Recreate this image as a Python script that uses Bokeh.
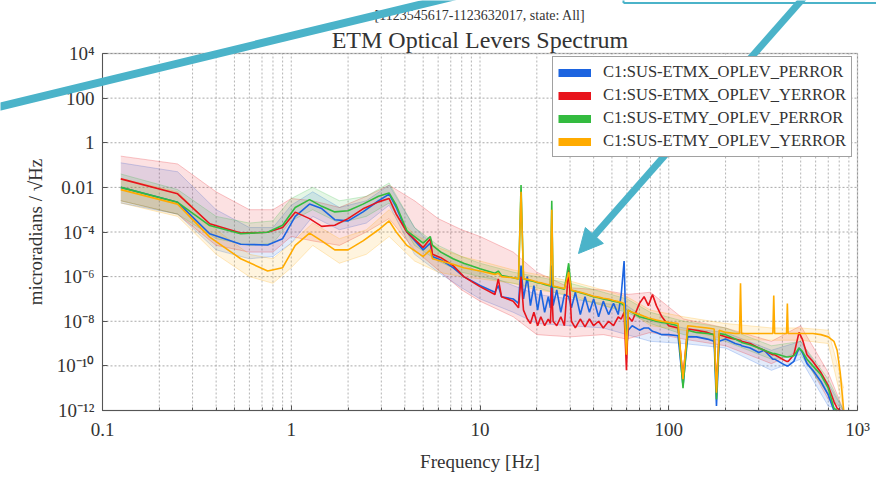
import numpy as np
from bokeh.plotting import figure
from bokeh.models import (Range1d, FixedTicker, CustomJSTickFormatter, Label, Arrow,
                          NormalHead, Legend, LegendItem, BoxAnnotation)
from bokeh.embed import file_html
from bokeh.resources import INLINE

nan = float("nan")

# ---------------- data (amplitude spectral density, exponents of 10) ----------------
freq = [0.125, 0.25, 0.37, 0.54, 0.75, 0.9, 1.05, 1.25, 1.45, 1.7,
        2.0, 2.4, 2.9, 3.3, 3.6, 4.1, 5.0, 5.45, 5.6, 6.2,
        7.2, 8.2, 10, 12, 12.5, 13, 15, 16.0, 16.5, 17.0,
        17.8, 18.5, 19.3, 20.2, 21, 22, 23, 23.6, 24, 24.4,
        25.5, 26.8, 28, 29.5, 30.5, 32, 34, 36, 38, 40,
        42.5, 45, 48, 51, 54, 56, 58, 59.7, 61, 64,
        70, 74, 78, 82, 86, 92, 100, 112, 119, 126,
        140, 160, 174, 179, 185, 200, 225, 237, 240, 243,
        270, 300, 320, 356, 360, 364, 400, 421, 425, 429,
        460, 490, 510, 540, 580, 640, 700, 750, 780, 810, 845]

etmx_perror_log10 = [-2.0, -2.67, -4.08, -4.55, -4.58, -4.3, -3.3, -2.75, -2.95, -3.45,
                     -3.5, -3.1, -2.6, -2.3, -2.9, -4.0, -4.8, -4.5, -5.1, -5.25,
                     -5.6, -6.0, -6.4, -6.7, -6.4, -6.9, -7.0, -7.2, -5.5, -7.0,
                     -6.0, -7.3, -6.4, -7.5, -6.6, -7.6, -6.9, -7.4, -5.5, -7.3,
                     -6.6, -7.6, -6.8, -6.9, -7.4, -6.7, -7.7, -6.9, -7.6, -7.0,
                     -7.8, -7.1, -7.7, -7.2, -7.7, -6.8, -5.3, -9.3, -8.4, -8.2,
                     -8.4, -8.3, -8.3, -8.45, -8.5, -8.6, -8.6, -8.65, -10.9, -8.7,
                     -8.7, -8.8, -8.9, -11.8, -8.9, -8.8, -9.0, -9.05, -9.05, -9.1,
                     -9.2, -9.4, -9.3, -9.7, -9.7, -9.7, -9.9, -10.0, -10.0, -10.0,
                     -9.8, -9.2, -9.4, -9.9, -10.2, -10.7, -11.3, -12.0, nan, nan, nan]
etmx_yerror_log10 = [-1.62, -2.29, -3.63, -4.05, -4.01, -3.8, -3.11, -3.4, -3.75, -3.7,
                     -3.4, -2.96, -2.65, -2.5, -3.2, -4.0, -4.7, -4.3, -5.0, -5.15,
                     -5.5, -6.0, -6.45, -6.8, -6.1, -6.9, -7.1, -7.4, -6.0, -7.5,
                     -7.9, -8.1, -7.6, -8.2, -7.8, -8.2, -7.9, -8.1, -6.5, -8.0,
                     -8.2, -7.8, -8.2, -5.6, -8.0, -8.3, -7.9, -8.25, -7.9, -8.2,
                     -8.0, -8.3, -8.0, -8.2, -7.8, -7.9, -7.6, -10.2, -7.8, -8.0,
                     -7.2, -6.9, -7.3, -6.8, -7.3, -7.8, -8.2, -8.3, -10.5, -8.35,
                     -8.4, -8.5, -8.6, -11.0, -8.6, -8.7, -8.8, -8.85, -8.85, -8.9,
                     -9.0, -9.2, -9.3, -9.5, -9.5, -9.5, -9.7, -9.8, -9.8, -9.8,
                     -9.5, -8.5, -8.8, -9.5, -9.8, -10.3, -10.9, -11.6, -11.9, -12.0, nan]
etmy_perror_log10 = [-2.0, -2.67, -3.71, -4.08, -4.01, -3.7, -2.9, -2.55, -2.85, -3.1,
                     -3.05, -2.75, -2.4, -2.25, -2.8, -3.95, -4.5, -4.2, -4.6, -4.9,
                     -5.2, -5.4, -5.65, -5.85, -5.75, -5.95, -6.05, -6.1, -1.9, -6.1,
                     -6.15, -6.18, -6.22, -6.27, -6.3, -6.35, -6.4, -6.42, -2.6, -6.45,
                     -6.48, -6.52, -6.56, -5.4, -6.62, -6.66, -6.72, -6.78, -6.84, -6.9,
                     -6.95, -7.0, -7.05, -7.1, -7.15, -7.2, -7.3, -9.0, -7.5, -7.6,
                     -7.8, -7.85, -7.9, -7.95, -8.0, -8.05, -8.1, -8.2, -11.0, -8.4,
                     -8.5, -8.55, -8.6, -11.5, -8.55, -8.6, -8.8, -8.9, -8.9, -8.95,
                     -9.05, -9.2, -9.3, -9.45, -9.45, -9.45, -9.55, -9.6, -9.6, -9.6,
                     -9.55, -9.2, -9.35, -9.7, -10.0, -10.4, -11.0, -11.9, -12.0, nan, nan]
etmy_yerror_log10 = [-2.1, -2.75, -4.23, -5.2, -5.75, -5.6, -4.6, -4.05, -4.4, -4.8,
                     -4.8, -4.4, -3.9, -3.5, -4.0, -4.6, -5.1, -4.8, -5.2, -5.3,
                     -5.45, -5.6, -5.75, -5.9, -5.85, -6.0, -6.05, -6.1, -2.2, -6.1,
                     -6.12, -6.15, -6.2, -6.25, -6.28, -6.32, -6.36, -6.38, -3.0, -6.42,
                     -6.45, -6.5, -6.53, -5.8, -6.6, -6.65, -6.7, -6.76, -6.82, -6.88,
                     -6.92, -6.97, -7.0, -7.07, -7.12, -7.15, -7.2, -9.5, -7.5, -7.6,
                     -7.7, -7.78, -7.85, -7.9, -7.95, -8.0, -8.05, -8.1, -10.6, -8.2,
                     -8.25, -8.3, -8.35, -11.2, -8.4, -8.5, -8.55, -8.55, -6.3, -8.55,
                     -8.55, -8.55, -8.55, -8.55, -6.85, -8.55, -8.55, -8.55, -7.2, -8.55,
                     -8.55, -8.55, -8.55, -8.55, -8.55, -8.6, -8.7, -8.9, -9.3, -10.3, -12.0]

# percentile bands (exponents of 10)
band_freq = [0.125, 0.25, 0.4, 0.6, 0.8, 1.0, 1.3, 1.8, 2.5, 3.3, 4.5, 6, 8, 10, 15, 20, 30,
             45, 60, 80, 120, 200, 350, 500, 700, 845]
etmx_perror_hi = [-0.9, -1.3, -3.0, -3.8, -3.8, -2.8, -2.2, -2.9, -2.6, -1.9, -3.8, -4.8, -5.4,
                  -5.8, -6.4, -6.8, -7.0, -7.2, -7.3, -8.0, -8.3, -8.5, -9.3, -8.9, -10.8, -12.0]
etmx_perror_lo = [-2.7, -3.2, -4.8, -5.2, -5.1, -4.5, -3.3, -3.9, -3.6, -2.8, -5.0, -5.8, -6.5,
                  -7.0, -7.6, -8.1, -8.2, -8.3, -8.6, -8.9, -9.0, -9.2, -10.2, -9.7, -11.8, -12.0]
etmx_yerror_hi = [-0.6, -0.95, -2.2, -3.0, -3.0, -2.5, -2.6, -2.9, -2.4, -1.9, -2.6, -3.4, -3.9,
                  -4.2, -4.9, -5.8, -6.5, -6.6, -6.8, -6.7, -7.9, -8.3, -8.9, -8.2, -10.3, -12.0]
etmx_yerror_lo = [-2.6, -3.2, -4.6, -4.9, -4.9, -4.2, -4.4, -4.6, -4.0, -3.4, -4.8, -5.7, -6.6,
                  -7.1, -7.8, -8.6, -8.7, -8.6, -8.8, -8.5, -8.8, -9.1, -9.9, -9.3, -11.5, -12.0]
etmy_perror_hi = [-1.4, -2.1, -3.3, -3.6, -3.5, -2.5, -2.0, -2.6, -2.4, -1.8, -3.8, -4.6, -5.1,
                  -5.4, -5.8, -6.0, -6.3, -6.7, -7.0, -7.6, -8.0, -8.3, -9.1, -8.9, -10.6, -12.0]
etmy_perror_lo = [-2.6, -3.2, -4.3, -4.6, -4.5, -3.5, -3.0, -3.6, -3.3, -2.7, -4.6, -5.3, -5.8,
                  -6.0, -6.3, -6.5, -6.9, -7.3, -7.6, -8.1, -8.6, -8.9, -9.7, -9.5, -11.3, -12.0]
etmy_yerror_hi = [-1.6, -2.2, -3.9, -5.0, -5.2, -4.5, -3.6, -4.3, -3.9, -3.0, -4.1, -4.7, -5.1,
                  -5.3, -5.7, -5.9, -6.2, -6.6, -6.9, -7.5, -7.8, -8.1, -8.3, -8.3, -8.4, -11.0]
etmy_yerror_lo = [-2.7, -3.3, -5.0, -6.0, -6.3, -5.6, -4.6, -5.4, -5.0, -4.2, -5.3, -5.8, -6.0,
                  -6.1, -6.3, -6.6, -6.8, -7.3, -7.5, -8.2, -8.4, -8.8, -8.85, -8.85, -9.0, -12.0]

channels = ["C1:SUS-ETMX_OPLEV_PERROR", "C1:SUS-ETMX_OPLEV_YERROR",
            "C1:SUS-ETMY_OPLEV_PERROR", "C1:SUS-ETMY_OPLEV_YERROR"]
x_tick_values = [0.1, 1, 10, 100, 1000]
x_tick_labels = ["0.1", "1", "10", "100", "10³"]
y_tick_values = [1e-12, 1e-10, 1e-8, 1e-6, 1e-4, 1e-2, 1, 1e2, 1e4]
y_tick_labels = ["10⁻¹²", "10⁻¹⁰", "10⁻⁸", "10⁻⁶", "10⁻⁴", "0.01", "1", "100", "10⁴"]
title_text = "ETM Optical Levers Spectrum"
subtitle_text = "[1123545617-1123632017, state: All]"

# ---------------- layout: the plot frame fills the whole canvas ----------------
W, H = 876, 477
FL, FR, FT, FB = 102, 857, 53, 410          # axes box in canvas pixels
XMIN, XMAX, YMIN, YMAX = 0.1, 1000.0, 1e-12, 1e4
dx = (FR - FL) / (np.log10(XMAX) - np.log10(XMIN))
dy = (FB - FT) / (np.log10(YMAX) - np.log10(YMIN))
x_range = Range1d(10 ** (np.log10(XMIN) - FL / dx), 10 ** (np.log10(XMAX) + (W - FR) / dx))
y_range = Range1d(10 ** (np.log10(YMIN) - (H - FB) / dy), 10 ** (np.log10(YMAX) + FT / dy))

SERIF = "Liberation Serif"
TEXT = "#333333"
TEAL = "#4bb3c9"
GRID = "#a0a0a0"
colors = ["#1c64e0", "#e8141c", "#33bb3f", "#ffab00"]

p = figure(width=W, height=H, x_axis_type="log", y_axis_type="log",
           x_range=x_range, y_range=y_range,
           output_backend="svg", toolbar_location=None,
           min_border_left=0, min_border_right=0, min_border_top=0, min_border_bottom=0)
p.title.visible = False
p.background_fill_color = "white"
p.border_fill_color = "white"
p.outline_line_color = None
p.grid.visible = False

# grid (dotted), limited to the axes box
x_minor = [m * 10.0 ** k for k in range(-1, 3) for m in range(2, 10)]
p.segment(x0=x_tick_values + x_minor, y0=YMIN, x1=x_tick_values + x_minor, y1=YMAX,
          line_color=GRID, line_dash="2 2", line_width=1, line_alpha=0.8)
p.segment(x0=XMIN, y0=y_tick_values, x1=XMAX, y1=y_tick_values,
          line_color=GRID, line_dash="2 2", line_width=1, line_alpha=0.9)

series = [etmx_perror_log10, etmx_yerror_log10, etmy_perror_log10, etmy_yerror_log10]
bands = [(etmx_perror_lo, etmx_perror_hi), (etmx_yerror_lo, etmx_yerror_hi),
         (etmy_perror_lo, etmy_perror_hi), (etmy_yerror_lo, etmy_yerror_hi)]

for (lo, hi), c in zip(bands, colors):
    lo_v = 10.0 ** np.array(lo)
    hi_v = 10.0 ** np.array(hi)
    p.varea(x=band_freq, y1=lo_v, y2=hi_v, fill_color=c, fill_alpha=0.13)
    p.line(band_freq, hi_v, line_color=c, line_alpha=0.3, line_width=0.8)
    p.line(band_freq, lo_v, line_color=c, line_alpha=0.3, line_width=0.8)

for s, c in zip(series, colors):
    p.line(freq, 10.0 ** np.array(s), line_color=c, line_width=1.6)

# axes box
p.add_layout(BoxAnnotation(left=XMIN, right=XMAX, bottom=YMIN, top=YMAX,
                           fill_alpha=0, line_color="#555555", line_width=1.3))

# legend with thick swatches (swatch renderers sit outside the view)
items = []
for name, c in zip(channels, colors):
    r = p.line([1e-4, 2e-4], [1e-30, 1e-30], line_color=c, line_width=8)
    items.append(LegendItem(label=name, renderers=[r]))
legend = Legend(items=items, location=(552, H - 157), margin=0)
legend.label_text_font = SERIF
legend.label_text_font_size = "16.5px"
legend.label_text_color = TEXT
legend.glyph_width = 33
legend.glyph_height = 19
legend.label_height = 19
legend.label_standoff = 12
legend.spacing = 3
legend.padding = 5
legend.border_line_color = "#444444"
legend.border_line_width = 1
legend.background_fill_alpha = 1.0
p.add_layout(legend)

# axes pinned to the box edges
xax, yax = p.xaxis[0], p.yaxis[0]
xax.fixed_location = YMIN
yax.fixed_location = XMIN
xax.bounds = (XMIN, XMAX)
yax.bounds = (YMIN, YMAX)
xax.ticker = FixedTicker(ticks=x_tick_values, minor_ticks=x_minor)
yax.ticker = FixedTicker(ticks=y_tick_values, minor_ticks=[])
xax.formatter = CustomJSTickFormatter(
    args=dict(exps=[-1, 0, 1, 2, 3], labels=x_tick_labels),
    code="const e = Math.round(Math.log10(tick)); const i = exps.indexOf(e); return i < 0 ? '' : labels[i];")
yax.formatter = CustomJSTickFormatter(
    args=dict(exps=[-12, -10, -8, -6, -4, -2, 0, 2, 4], labels=y_tick_labels),
    code="const e = Math.round(Math.log10(tick)); const i = exps.indexOf(e); return i < 0 ? '' : labels[i];")

for ax in (xax, yax):
    ax.major_label_text_font = SERIF
    ax.major_label_text_font_size = "19px"
    ax.major_label_text_color = TEXT
    ax.axis_label_text_font = SERIF
    ax.axis_label_text_font_size = "19px"
    ax.axis_label_text_font_style = "normal"
    ax.axis_label_text_color = TEXT
    ax.axis_line_color = "#555555"
    ax.major_tick_in = 5
    ax.major_tick_out = 0
    ax.minor_tick_in = 3
    ax.minor_tick_out = 0
    ax.major_tick_line_color = "#555555"
    ax.minor_tick_line_color = "#555555"
    ax.major_label_standoff = 8

xax.axis_label = "Frequency [Hz]"
yax.axis_label = "microradians / √Hz"
xax.axis_label_standoff = 8
yax.axis_label_standoff = 8

# title texts (screen units, origin at the canvas bottom-left)
p.add_layout(Label(x=(FL + FR) / 2, y=H - 39, x_units="screen", y_units="screen", text=title_text,
                   text_font=SERIF, text_font_size="24px", text_color=TEXT,
                   text_align="center", text_baseline="middle"))
p.add_layout(Label(x=(FL + FR) / 2, y=H - 15, x_units="screen", y_units="screen", text=subtitle_text,
                   text_font=SERIF, text_font_size="14px", text_color=TEXT,
                   text_align="center", text_baseline="middle"))

# slide annotations (teal arrows and the edge of a callout box)
p.add_layout(Arrow(x_start=-10, y_start=H - 108.4, x_end=460, y_end=H + 5.6,
                   start_units="screen", end_units="screen",
                   line_color=TEAL, line_width=8, end=None))
p.add_layout(Arrow(x_start=806, y_start=H + 6, x_end=578, y_end=H - 253,
                   start_units="screen", end_units="screen",
                   line_color=TEAL, line_width=7,
                   end=NormalHead(size=24, fill_color=TEAL, line_color=TEAL)))
p.add_layout(Arrow(x_start=623, y_start=H + 5, x_end=623, y_end=H - 2.5,
                   start_units="screen", end_units="screen",
                   line_color=TEAL, line_width=2, end=None))
p.add_layout(Arrow(x_start=623, y_start=H - 2.5, x_end=W + 5, y_end=H - 2.5,
                   start_units="screen", end_units="screen",
                   line_color=TEAL, line_width=2, end=None))

open("out.html", "w").write(file_html(p, INLINE))
